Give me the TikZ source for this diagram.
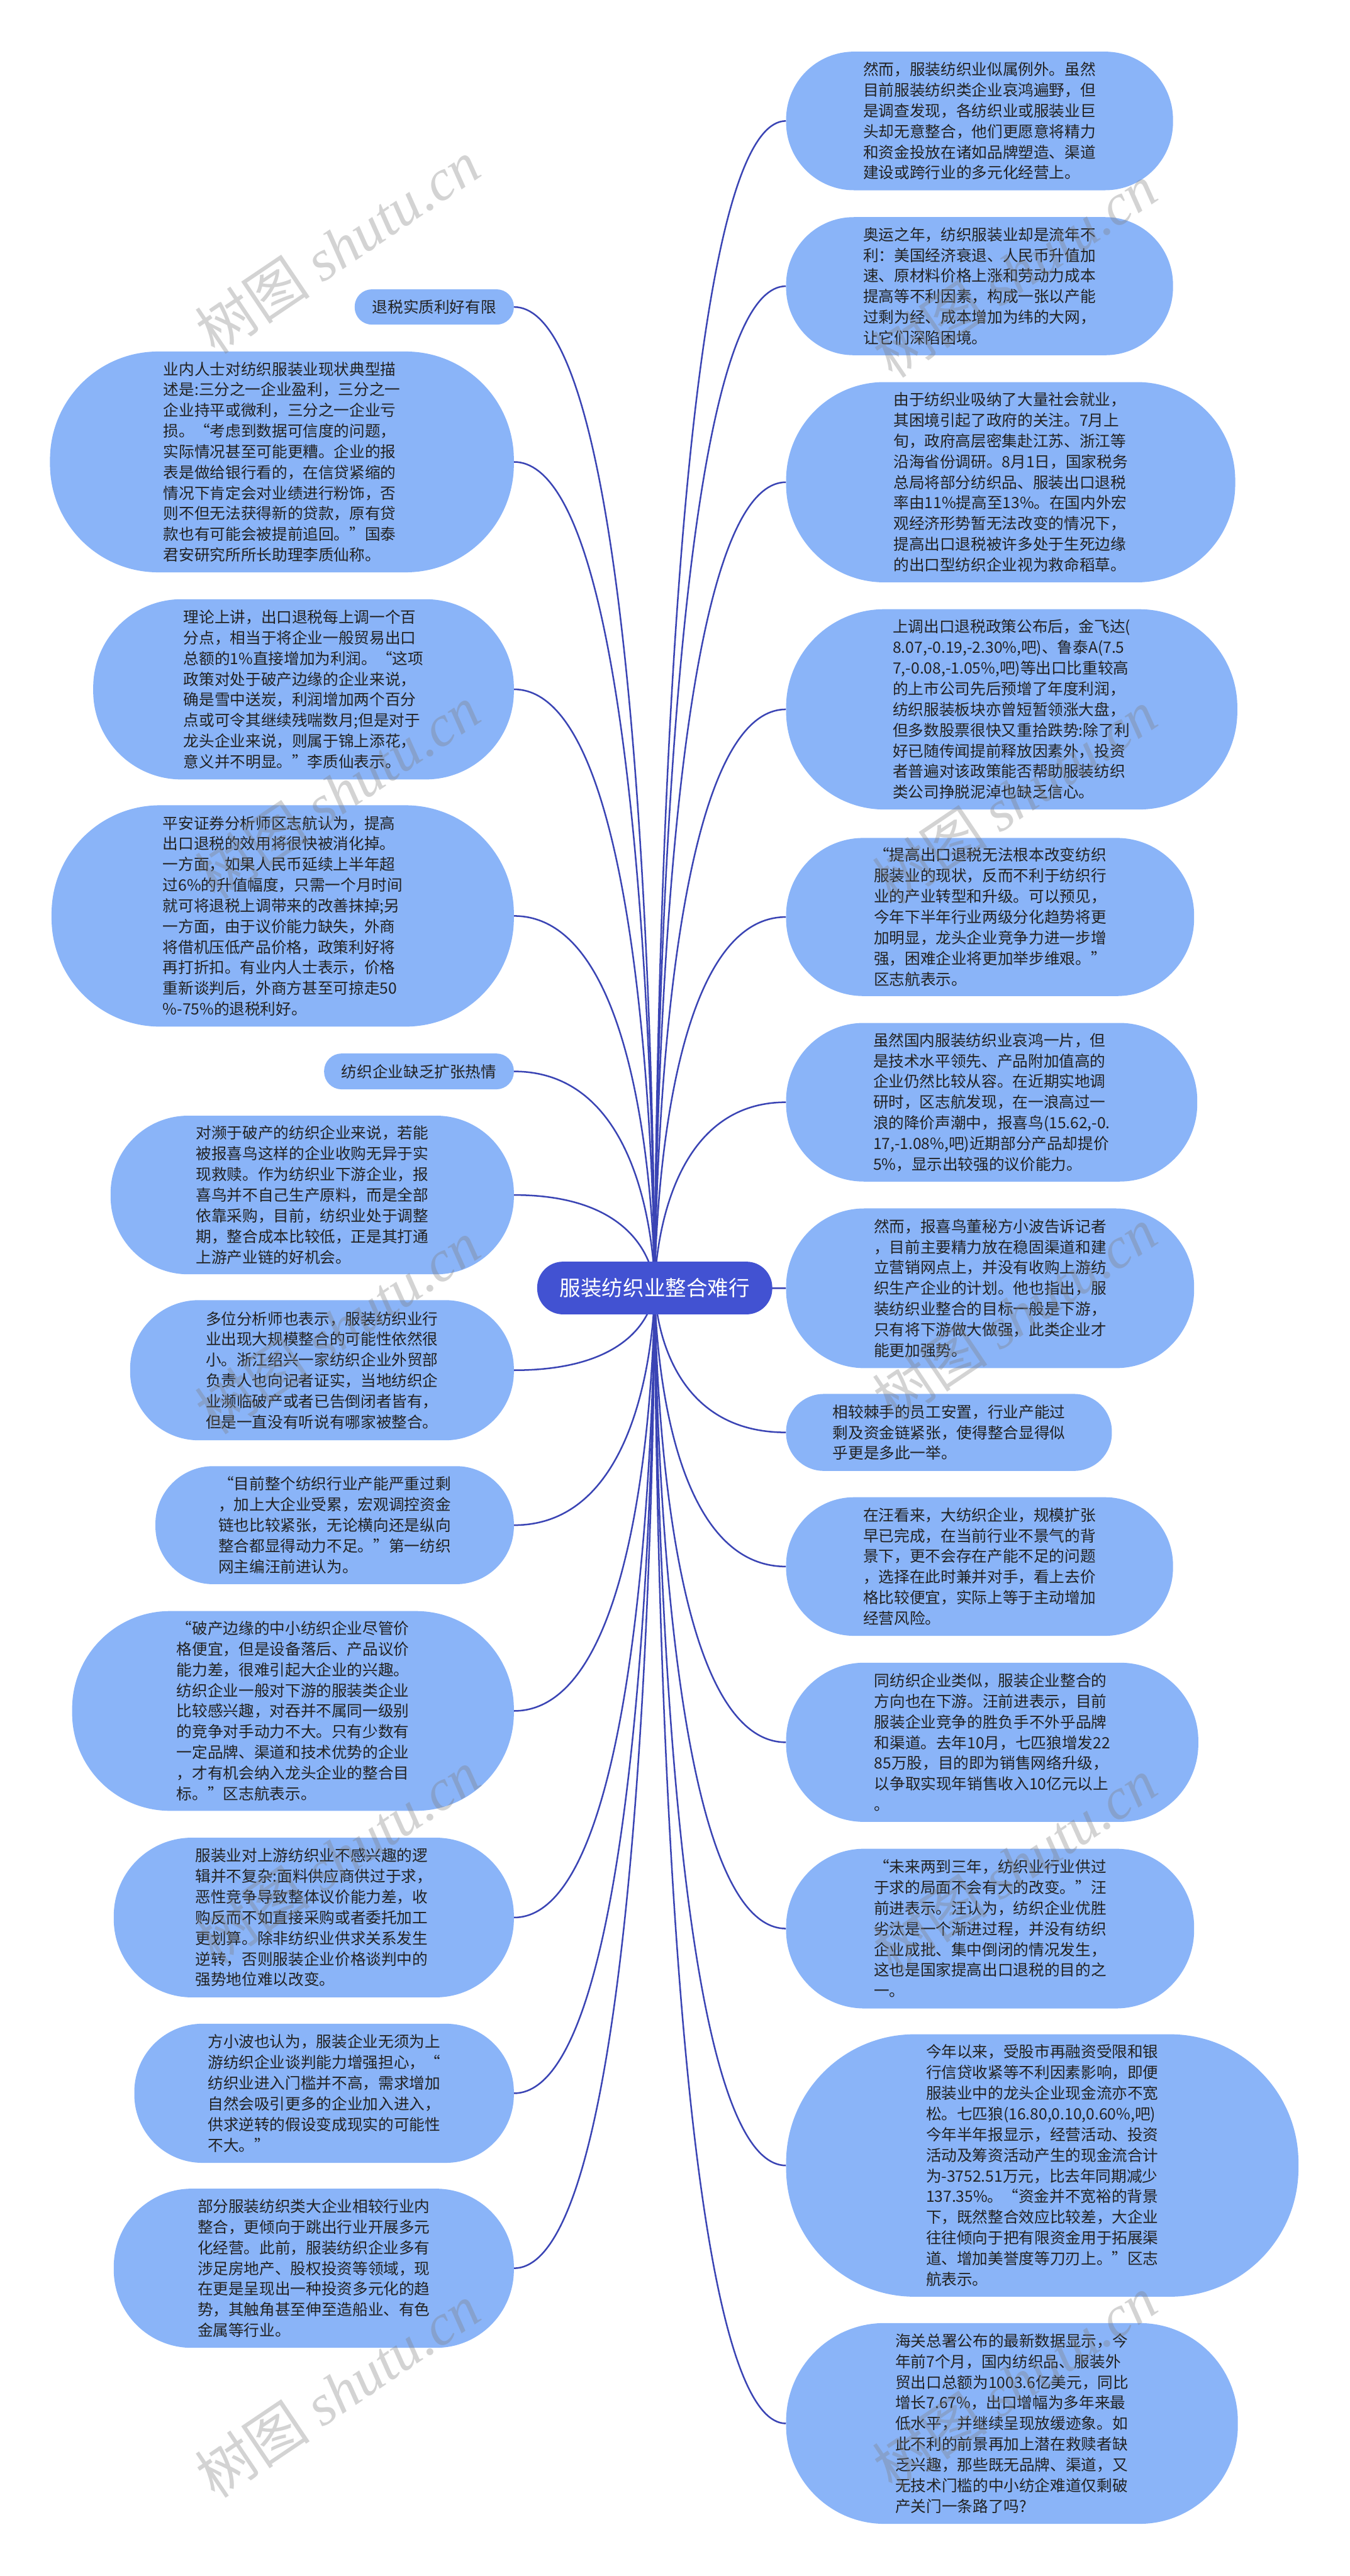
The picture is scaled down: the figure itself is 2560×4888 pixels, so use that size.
\documentclass[tikz,border=0pt]{standalone}
\usepackage{fontspec}
\setmainfont{Noto Sans CJK SC}
\newfontfamily\wmserif{Liberation Serif}
\usetikzlibrary{backgrounds}
\definecolor{BubbleClr}{RGB}{138,180,248}
\definecolor{RootClr}{RGB}{66,82,210}
\definecolor{LinkClr}{RGB}{58,68,180}
\definecolor{TextClr}{RGB}{34,34,34}
\newcommand\bubfont{\fontsize{29.4}{39.2}\selectfont}
\newcommand\rootfont{\fontsize{40}{48}\selectfont}
\newcommand\wmfont{\fontsize{110}{120}\selectfont}

\begin{document}
\begin{tikzpicture}[x=1pt,y=-1pt,
  bub/.style 2 args={fill=BubbleClr,text=TextClr,font=\bubfont,align=left,inner sep=0pt,
    minimum width=#1pt,minimum height=#2pt,rounded corners=#2*0.49pt},
  link/.style={draw=LinkClr,line width=3pt}]
\useasboundingbox (0,0) rectangle (2560,4888);

\node[fill=RootClr,text=white,font=\rootfont,minimum width=446pt,minimum height=100pt,rounded corners=49pt] (root) at (1242,2444) {服装纺织业整合难行};

% right side
\node[bub={734}{263},anchor=west] (R1) at (1491,229.5) {然而，服装纺织业似属例外。虽然\\目前服装纺织类企业哀鸿遍野，但\\是调查发现，各纺织业或服装业巨\\头却无意整合，他们更愿意将精力\\和资金投放在诸如品牌塑造、渠道\\建设或跨行业的多元化经营上。};
\node[bub={734}{262},anchor=west] (R2) at (1491,543) {奥运之年，纺织服装业却是流年不\\利：美国经济衰退、人民币升值加\\速、原材料价格上涨和劳动力成本\\提高等不利因素，构成一张以产能\\过剩为经、成本增加为纬的大网，\\让它们深陷困境。};
\node[bub={852}{380},anchor=west] (R3) at (1491,915) {由于纺织业吸纳了大量社会就业，\\其困境引起了政府的关注。7月上\\旬，政府高层密集赴江苏、浙江等\\沿海省份调研。8月1日，国家税务\\总局将部分纺织品、服装出口退税\\率由11\%提高至13\%。在国内外宏\\观经济形势暂无法改变的情况下，\\提高出口退税被许多处于生死边缘\\的出口型纺织企业视为救命稻草。};
\node[bub={856}{380},anchor=west] (R4) at (1491,1346) {上调出口退税政策公布后，金飞达(\\8.07,-0.19,-2.30\%,吧)、鲁泰A(7.5\\7,-0.08,-1.05\%,吧)等出口比重较高\\的上市公司先后预增了年度利润，\\纺织服装板块亦曾短暂领涨大盘，\\但多数股票很快又重拾跌势:除了利\\好已随传闻提前释放因素外，投资\\者普遍对该政策能否帮助服装纺织\\类公司挣脱泥淖也缺乏信心。};
\node[bub={774}{300},anchor=west] (R5) at (1491,1740) {“提高出口退税无法根本改变纺织\\服装业的现状，反而不利于纺织行\\业的产业转型和升级。可以预见，\\今年下半年行业两级分化趋势将更\\加明显，龙头企业竞争力进一步增\\强，困难企业将更加举步维艰。”\\区志航表示。};
\node[bub={780}{301},anchor=west] (R6) at (1491,2091.5) {虽然国内服装纺织业哀鸿一片，但\\是技术水平领先、产品附加值高的\\企业仍然比较从容。在近期实地调\\研时，区志航发现，在一浪高过一\\浪的降价声潮中，报喜鸟(15.62,-0.\\17,-1.08\%,吧)近期部分产品却提价\\5\%，显示出较强的议价能力。};
\node[bub={774}{303},anchor=west] (R7) at (1491,2444.5) {然而，报喜鸟董秘方小波告诉记者\\，目前主要精力放在稳固渠道和建\\立营销网点上，并没有收购上游纺\\织生产企业的计划。他也指出，服\\装纺织业整合的目标一般是下游，\\只有将下游做大做强，此类企业才\\能更加强势。};
\node[bub={618}{146},anchor=west] (R8) at (1491,2718) {相较棘手的员工安置，行业产能过\\剩及资金链紧张，使得整合显得似\\乎更是多此一举。};
\node[bub={734}{263},anchor=west] (R9) at (1491,2972.5) {在汪看来，大纺织企业，规模扩张\\早已完成，在当前行业不景气的背\\景下，更不会存在产能不足的问题\\，选择在此时兼并对手，看上去价\\格比较便宜，实际上等于主动增加\\经营风险。};
\node[bub={782}{302},anchor=west] (R10) at (1491,3306) {同纺织企业类似，服装企业整合的\\方向也在下游。汪前进表示，目前\\服装企业竞争的胜负手不外乎品牌\\和渠道。去年10月，七匹狼增发22\\85万股，目的即为销售网络升级，\\以争取实现年销售收入10亿元以上\\。};
\node[bub={774}{303},anchor=west] (R11) at (1491,3659.5) {“未来两到三年，纺织业行业供过\\于求的局面不会有大的改变。”汪\\前进表示。汪认为，纺织企业优胜\\劣汰是一个渐进过程，并没有纺织\\企业成批、集中倒闭的情况发生，\\这也是国家提高出口退税的目的之\\一。};
\node[bub={972}{498},anchor=west] (R12) at (1491,4109) {今年以来，受股市再融资受限和银\\行信贷收紧等不利因素影响，即便\\服装业中的龙头企业现金流亦不宽\\松。七匹狼(16.80,0.10,0.60\%,吧)\\今年半年报显示，经营活动、投资\\活动及筹资活动产生的现金流合计\\为-3752.51万元，比去年同期减少\\137.35\%。“资金并不宽裕的背景\\下，既然整合效应比较差，大企业\\往往倾向于把有限资金用于拓展渠\\道、增加美誉度等刀刃上。”区志\\航表示。};
\node[bub={857}{381},anchor=west] (R13) at (1491,4598.5) {海关总署公布的最新数据显示，今\\年前7个月，国内纺织品、服装外\\贸出口总额为1003.6亿美元，同比\\增长7.67\%，出口增幅为多年来最\\低水平，并继续呈现放缓迹象。如\\此不利的前景再加上潜在救赎者缺\\乏兴趣，那些既无品牌、渠道，又\\无技术门槛的中小纺企难道仅剩破\\产关门一条路了吗?};

% left side
\node[bub={302}{67},anchor=east] (L1) at (975,582.5) {退税实质利好有限};
\node[bub={880}{419},anchor=east] (L2) at (975,876.5) {业内人士对纺织服装业现状典型描\\述是:三分之一企业盈利，三分之一\\企业持平或微利，三分之一企业亏\\损。“考虑到数据可信度的问题，\\实际情况甚至可能更糟。企业的报\\表是做给银行看的，在信贷紧缩的\\情况下肯定会对业绩进行粉饰，否\\则不但无法获得新的贷款，原有贷\\款也有可能会被提前追回。”国泰\\君安研究所所长助理李质仙称。};
\node[bub={798}{342},anchor=east] (L3) at (975,1308) {理论上讲，出口退税每上调一个百\\分点，相当于将企业一般贸易出口\\总额的1\%直接增加为利润。“这项\\政策对处于破产边缘的企业来说，\\确是雪中送炭，利润增加两个百分\\点或可令其继续残喘数月;但是对于\\龙头企业来说，则属于锦上添花，\\意义并不明显。”李质仙表示。};
\node[bub={877}{420},anchor=east] (L4) at (975,1738) {平安证券分析师区志航认为，提高\\出口退税的效用将很快被消化掉。\\一方面，如果人民币延续上半年超\\过6\%的升值幅度，只需一个月时间\\就可将退税上调带来的改善抹掉;另\\一方面，由于议价能力缺失，外商\\将借机压低产品价格，政策利好将\\再打折扣。有业内人士表示，价格\\重新谈判后，外商方甚至可掠走50\\\%-75\%的退税利好。};
\node[bub={360}{68},anchor=east] (L5) at (975,2033) {纺织企业缺乏扩张热情};
\node[bub={765}{301},anchor=east] (L6) at (975,2267.5) {对濒于破产的纺织企业来说，若能\\被报喜鸟这样的企业收购无异于实\\现救赎。作为纺织业下游企业，报\\喜鸟并不自己生产原料，而是全部\\依靠采购，目前，纺织业处于调整\\期，整合成本比较低，正是其打通\\上游产业链的好机会。};
\node[bub={728}{266},anchor=east] (L7) at (975,2600) {多位分析师也表示，服装纺织业行\\业出现大规模整合的可能性依然很\\小。浙江绍兴一家纺织企业外贸部\\负责人也向记者证实，当地纺织企\\业濒临破产或者已告倒闭者皆有，\\但是一直没有听说有哪家被整合。};
\node[bub={680}{224},anchor=east] (L8) at (975,2894) {“目前整个纺织行业产能严重过剩\\，加上大企业受累，宏观调控资金\\链也比较紧张，无论横向还是纵向\\整合都显得动力不足。”第一纺织\\网主编汪前进认为。};
\node[bub={838}{379},anchor=east] (L9) at (975,3246.5) {“破产边缘的中小纺织企业尽管价\\格便宜，但是设备落后、产品议价\\能力差，很难引起大企业的兴趣。\\纺织企业一般对下游的服装类企业\\比较感兴趣，对吞并不属同一级别\\的竞争对手动力不大。只有少数有\\一定品牌、渠道和技术优势的企业\\，才有机会纳入龙头企业的整合目\\标。”区志航表示。};
\node[bub={759}{303},anchor=east] (L10) at (975,3638.5) {服装业对上游纺织业不感兴趣的逻\\辑并不复杂:面料供应商供过于求，\\恶性竞争导致整体议价能力差，收\\购反而不如直接采购或者委托加工\\更划算。除非纺织业供求关系发生\\逆转，否则服装企业价格谈判中的\\强势地位难以改变。};
\node[bub={720}{264},anchor=east] (L11) at (975,3972) {方小波也认为，服装企业无须为上\\游纺织企业谈判能力增强担心，“\\纺织业进入门槛并不高，需求增加\\自然会吸引更多的企业加入进入，\\供求逆转的假设变成现实的可能性\\不大。”};
\node[bub={759}{302},anchor=east] (L12) at (975,4304) {部分服装纺织类大企业相较行业内\\整合，更倾向于跳出行业开展多元\\化经营。此前，服装纺织企业多有\\涉足房地产、股权投资等领域，现\\在更是呈现出一种投资多元化的趋\\势，其触角甚至伸至造船业、有色\\金属等行业。};

\begin{scope}[on background layer]
\foreach \i in {1,...,13}
  \draw[link] (root.center) .. controls (root.center) and (root.center |- R\i.west) .. (R\i.west);
\foreach \i in {1,...,12}
  \draw[link] (root.center) .. controls (root.center) and (root.center |- L\i.east) .. (L\i.east);
\end{scope}

\foreach \wx/\wy in {640/468,640/1503,640/2519,640/3523,640/4537,1925/514,1925/1512,1925/2494,1925/3539,1925/4521}
  \node[rotate=34,text=gray,opacity=.35,font=\wmfont] at (\wx,\wy) {树图 {\wmserif\itshape shutu.cn}};

\end{tikzpicture}
\end{document}
